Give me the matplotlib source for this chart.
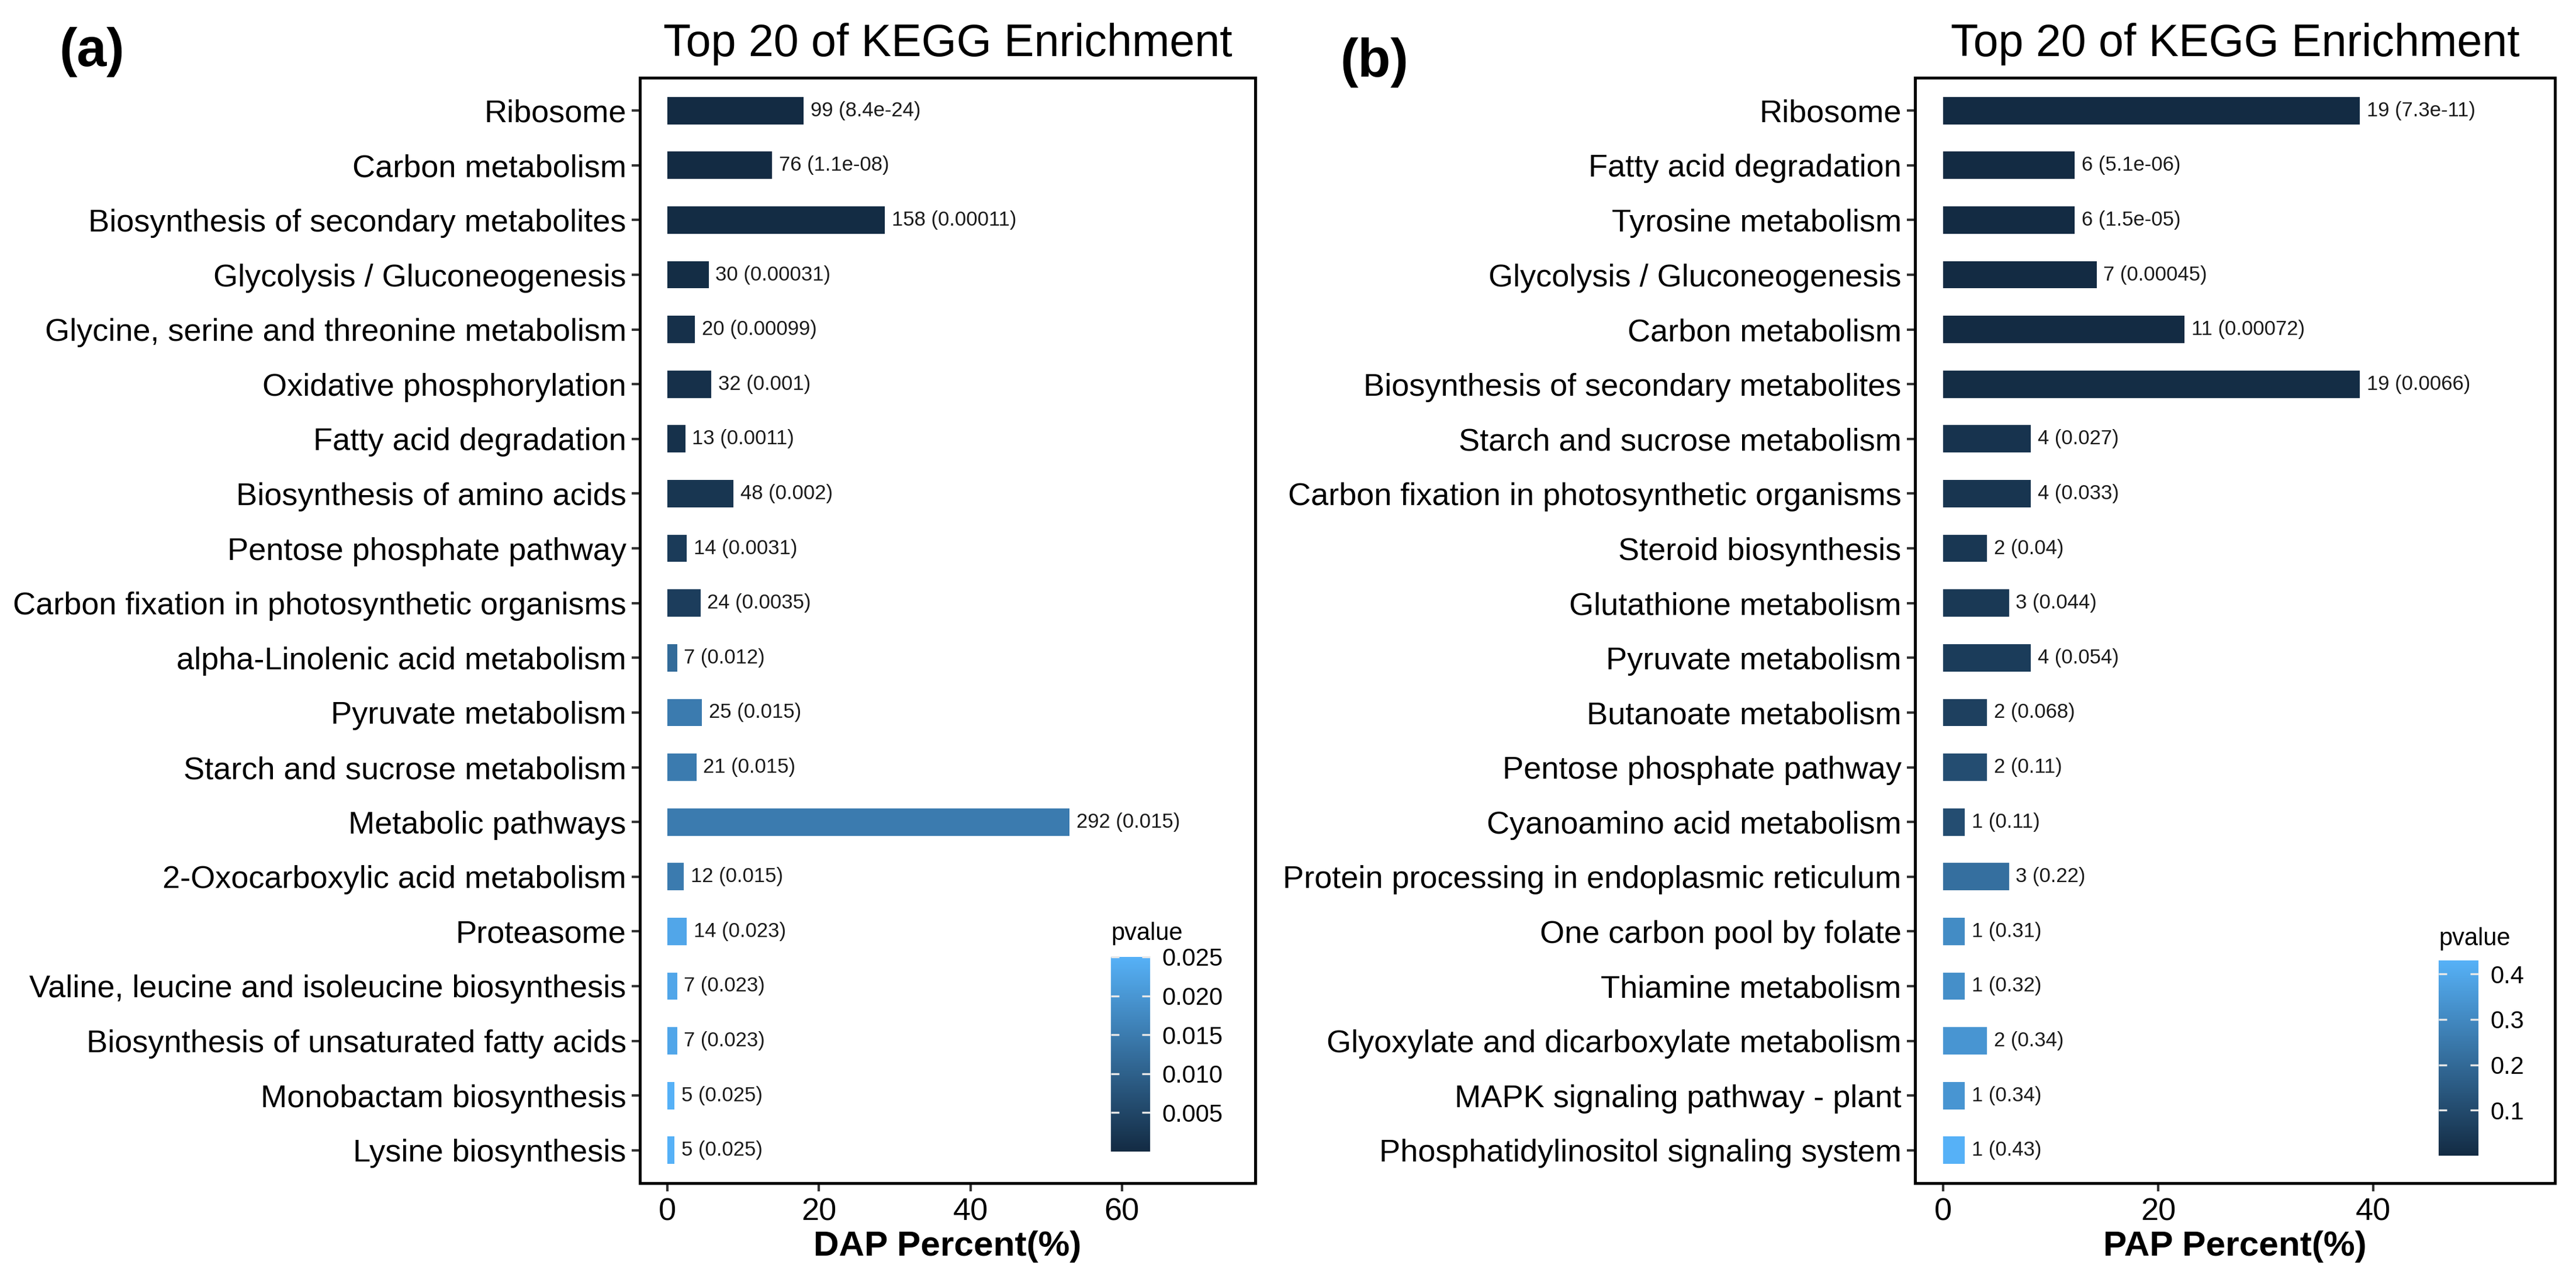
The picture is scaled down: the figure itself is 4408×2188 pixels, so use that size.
import numpy as np
import matplotlib
matplotlib.use("Agg")
import matplotlib.pyplot as plt
from matplotlib.colors import LinearSegmentedColormap, Normalize
from matplotlib.cm import ScalarMappable
from matplotlib.ticker import FormatStrFormatter

plt.rcParams['font.family'] = ['Liberation Sans', 'DejaVu Sans']

# ---- panel (a): DAP ----
dap_terms = [
    "Ribosome", "Carbon metabolism", "Biosynthesis of secondary metabolites",
    "Glycolysis / Gluconeogenesis", "Glycine, serine and threonine metabolism",
    "Oxidative phosphorylation", "Fatty acid degradation",
    "Biosynthesis of amino acids", "Pentose phosphate pathway",
    "Carbon fixation in photosynthetic organisms",
    "alpha-Linolenic acid metabolism", "Pyruvate metabolism",
    "Starch and sucrose metabolism", "Metabolic pathways",
    "2-Oxocarboxylic acid metabolism", "Proteasome",
    "Valine, leucine and isoleucine biosynthesis",
    "Biosynthesis of unsaturated fatty acids", "Monobactam biosynthesis",
    "Lysine biosynthesis",
]
dap_counts = [99, 76, 158, 30, 20, 32, 13, 48, 14, 24, 7, 25, 21, 292, 12, 14, 7, 7, 5, 5]
dap_pvalues = [8.4e-24, 1.1e-08, 0.00011, 0.00031, 0.00099, 0.001, 0.0011, 0.002,
               0.0031, 0.0035, 0.012, 0.015, 0.015, 0.015, 0.015, 0.023, 0.023,
               0.023, 0.025, 0.025]
dap_total = 550
dap_xticks = [0, 20, 40, 60]
dap_cbar_ticks = [0.005, 0.010, 0.015, 0.020, 0.025]

# ---- panel (b): PAP ----
pap_terms = [
    "Ribosome", "Fatty acid degradation", "Tyrosine metabolism",
    "Glycolysis / Gluconeogenesis", "Carbon metabolism",
    "Biosynthesis of secondary metabolites", "Starch and sucrose metabolism",
    "Carbon fixation in photosynthetic organisms", "Steroid biosynthesis",
    "Glutathione metabolism", "Pyruvate metabolism", "Butanoate metabolism",
    "Pentose phosphate pathway", "Cyanoamino acid metabolism",
    "Protein processing in endoplasmic reticulum", "One carbon pool by folate",
    "Thiamine metabolism", "Glyoxylate and dicarboxylate metabolism",
    "MAPK signaling pathway - plant", "Phosphatidylinositol signaling system",
]
pap_counts = [19, 6, 6, 7, 11, 19, 4, 4, 2, 3, 4, 2, 2, 1, 3, 1, 1, 2, 1, 1]
pap_pvalues = [7.3e-11, 5.1e-06, 1.5e-05, 0.00045, 0.00072, 0.0066, 0.027, 0.033,
               0.04, 0.044, 0.054, 0.068, 0.11, 0.11, 0.22, 0.31, 0.32, 0.34,
               0.34, 0.43]
pap_total = 49
pap_xticks = [0, 20, 40]
pap_cbar_ticks = [0.1, 0.2, 0.3, 0.4]

cmap = LinearSegmentedColormap.from_list("gg", ["#132B43", "#56B1F7"])

W, H = 4408, 2188
fig = plt.figure(figsize=(W / 300, H / 300), dpi=300)


def fx(px):
    return px / W


def fy(px):
    return 1 - px / H


def panel(ax_box, cax_box, terms, counts, pvals, total, xticks, xlim,
          cticks, cfmt, xlabel, ptitle_pos):
    ax = fig.add_axes(ax_box)
    n = len(terms)
    y = np.arange(n)
    pct = np.array(counts) / total * 100
    norm = Normalize(vmin=min(pvals), vmax=max(pvals))
    ax.barh(y, pct, height=0.5, color=cmap(norm(np.array(pvals))), linewidth=0)
    for yi, v, c, p in zip(y, pct, counts, pvals):
        ax.annotate(f"{c} ({p:.2g})", (v, yi), xytext=(2.8, 0),
                    textcoords="offset points", ha="left", va="center",
                    fontsize=8.3, color="#1a1a1a")
    ax.set_yticks(y)
    ax.set_yticklabels(terms)
    ax.set_ylim(n - 1 + 0.6, -0.6)
    ax.set_xlim(*xlim)
    ax.set_xticks(xticks)
    ax.tick_params(axis="both", labelsize=13, length=3.4, width=1.0,
                   color="#333333", labelcolor="black")
    ax.tick_params(axis="y", pad=2.2)
    ax.tick_params(axis="x", pad=2.6)
    for s in ax.spines.values():
        s.set_linewidth(1.2)
        s.set_color("black")
    ax.set_xlabel(xlabel, fontsize=14.5, fontweight="bold", labelpad=1.5)
    ax.set_title("Top 20 of KEGG Enrichment", fontsize=18.5, pad=9)

    cax = fig.add_axes(cax_box)
    cb = fig.colorbar(ScalarMappable(norm=norm, cmap=cmap), cax=cax)
    cb.outline.set_visible(False)
    cb.set_ticks(cticks)
    cb.ax.yaxis.set_major_formatter(FormatStrFormatter(cfmt))
    cb.ax.tick_params(left=True, right=True, labelleft=False, labelright=True,
                      direction="in", length=3.4, width=0.8, color="#e8e8e8",
                      labelsize=10, pad=5)
    fig.text(ptitle_pos[0], ptitle_pos[1], "pvalue", fontsize=10,
             ha="left", va="baseline")
    return ax


panel([fx(1095), fy(2024), fx(2148 - 1095), (2024 - 133) / H],
      [fx(1901), fy(1970), fx(67), 333 / H],
      dap_terms, dap_counts, dap_pvalues, dap_total, dap_xticks, (-3.63, 77.6),
      dap_cbar_ticks, "%.3f", "DAP Percent(%)", (fx(1901), fy(1608)))

panel([fx(3277), fy(2024), fx(4372 - 3277), (2024 - 133) / H],
      [fx(4173), fy(1977), fx(68), 334 / H],
      pap_terms, pap_counts, pap_pvalues, pap_total, pap_xticks, (-2.6, 56.9),
      pap_cbar_ticks, "%.1f", "PAP Percent(%)", (fx(4173), fy(1617)))

fig.text(fx(102), fy(113), "(a)", fontsize=22, fontweight="bold", va="baseline")
fig.text(fx(2293), fy(131), "(b)", fontsize=22, fontweight="bold", va="baseline")

fig.savefig("out.png", dpi=300)
